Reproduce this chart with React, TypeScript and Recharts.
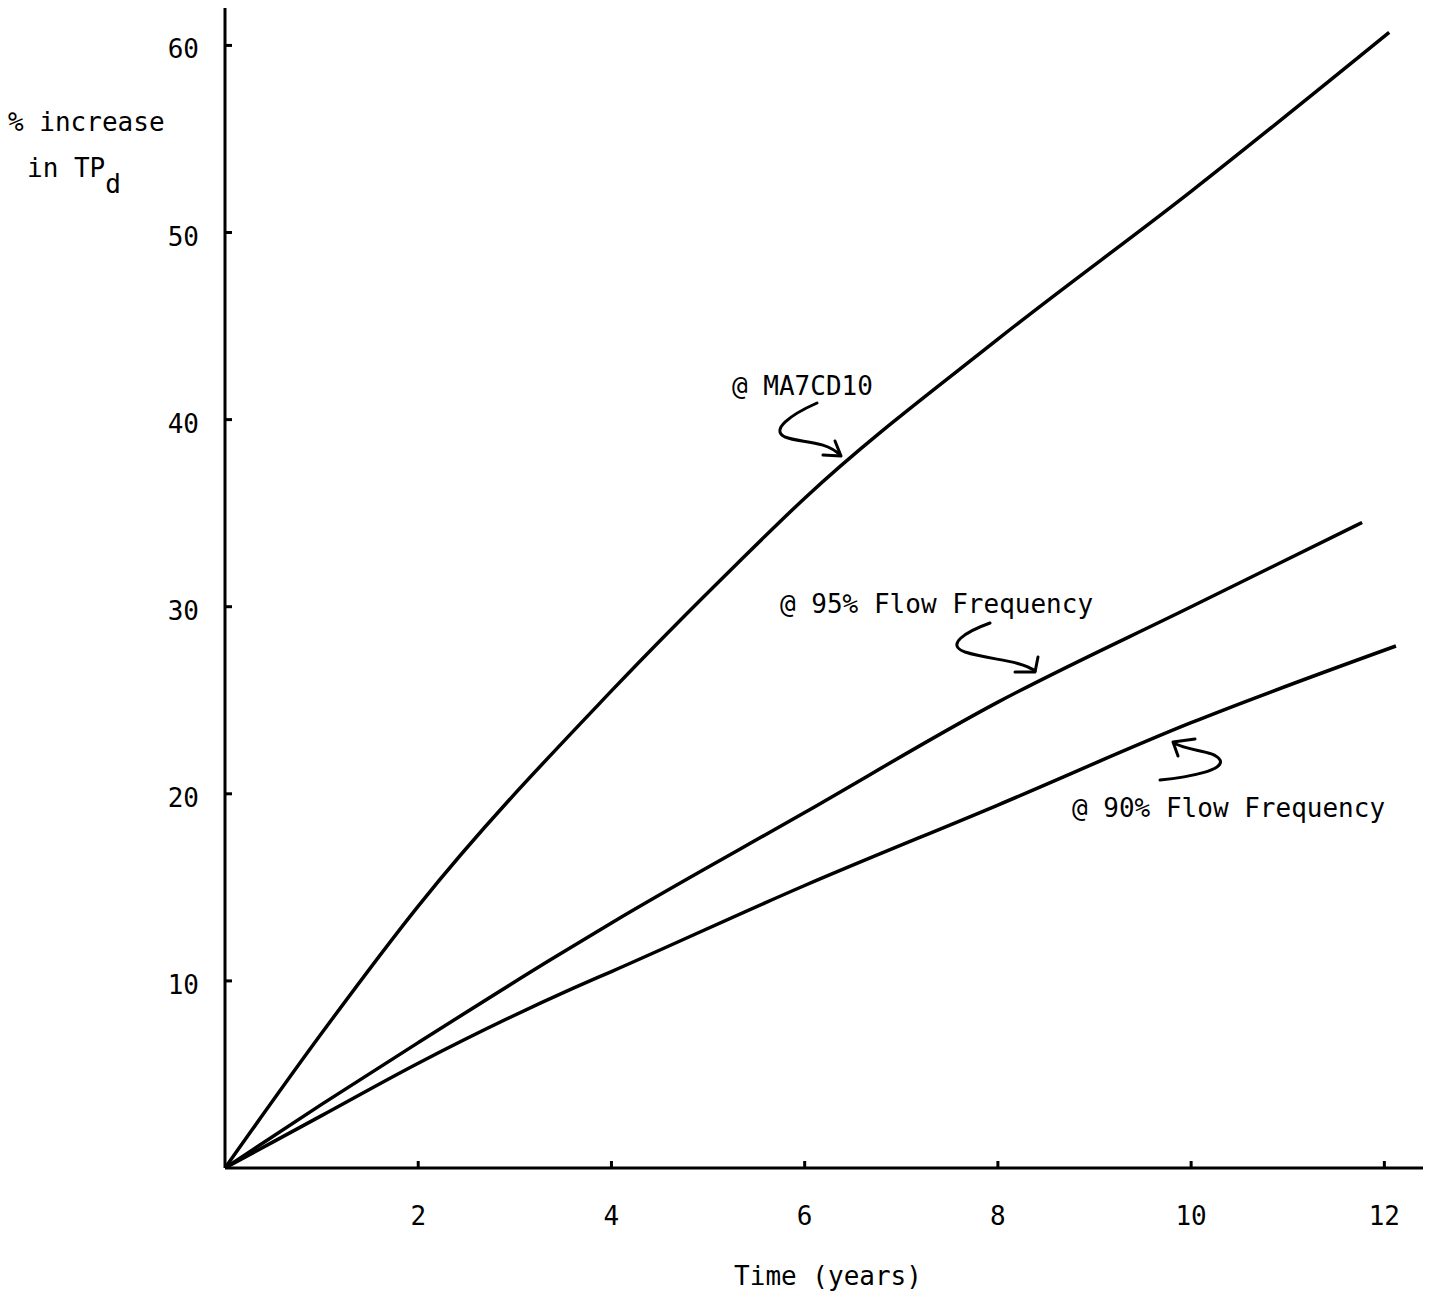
import React from "react";
import { LineChart, Line, XAxis, YAxis } from "recharts";

// values
const timeMA7CD10 = [0, 1, 2, 4, 5.3, 6, 8, 10, 12.05];
const pctMA7CD10 = [0, 7.2, 14.0, 25.5, 32.3, 35.8, 44.3, 52.2, 60.7];

const time95 = [0, 1, 2, 3.36, 4, 6, 8, 10, 11.77];
const pct95 = [0, 3.4, 6.7, 11.1, 13.1, 19.0, 24.9, 30.0, 34.5];

const time90 = [0, 1, 2, 3.6, 4, 6, 8, 10, 12.12];
const pct90 = [0, 2.8, 5.6, 9.6, 10.5, 15.1, 19.4, 23.8, 27.9];

const xTicks = [2, 4, 6, 8, 10, 12];
const yTicks = [10, 20, 30, 40, 50, 60];

const toPoints = (xs: number[], ys: number[]) => xs.map((t, i) => ({ time: t, pct: ys[i] }));

const FONT = "'DejaVu Sans Mono', monospace";
const INK = "#000";

function XTick(props: any) {
  const { x, y, payload } = props;
  return (
    <g>
      <line x1={x} y1={y} x2={x} y2={y - 7} stroke={INK} strokeWidth={3} />
      <text x={x} y={y + 57} textAnchor="middle" fontFamily={FONT} fontSize={26} fill={INK}>
        {payload.value}
      </text>
    </g>
  );
}

function YTick(props: any) {
  const { x, y, payload } = props;
  return (
    <g>
      <line x1={x} y1={y} x2={x + 7} y2={y} stroke={INK} strokeWidth={3} />
      <text x={x - 26} y={y + 13} textAnchor="end" fontFamily={FONT} fontSize={26} fill={INK}>
        {payload.value}
      </text>
    </g>
  );
}

export default function App() {
  const W = 1429;
  const H = 1297;
  return (
    <div style={{ position: "absolute", left: 0, top: 0, width: W, height: H, background: "#fff" }}>
      <LineChart width={W} height={H} margin={{ top: 8, right: 6, bottom: 69, left: 165 }}>
        <XAxis
          dataKey="time"
          type="number"
          domain={[0, 12.4]}
          ticks={xTicks}
          allowDataOverflow
          height={60}
          tickSize={0}
          tickMargin={0}
          tickLine={false}
          axisLine={{ stroke: INK, strokeWidth: 3 }}
          tick={<XTick />}
        />
        <YAxis
          type="number"
          domain={[0, 62]}
          ticks={yTicks}
          allowDataOverflow
          width={60}
          tickSize={0}
          tickMargin={0}
          tickLine={false}
          axisLine={{ stroke: INK, strokeWidth: 3 }}
          tick={<YTick />}
        />
        <Line data={toPoints(timeMA7CD10, pctMA7CD10)} dataKey="pct" type="monotone" stroke={INK} strokeWidth={3.5} dot={false} isAnimationActive={false} />
        <Line data={toPoints(time95, pct95)} dataKey="pct" type="monotone" stroke={INK} strokeWidth={3.5} dot={false} isAnimationActive={false} />
        <Line data={toPoints(time90, pct90)} dataKey="pct" type="monotone" stroke={INK} strokeWidth={3.5} dot={false} isAnimationActive={false} />
      </LineChart>

      <svg width={W} height={H} style={{ position: "absolute", left: 0, top: 0, pointerEvents: "none" }}>
        <g fontFamily={FONT} fontSize={26} fill={INK}>
          <text x={8} y={131}>% increase</text>
          <text x={27} y={177}>
            in TP<tspan dy={16}>d</tspan>
          </text>
          <text x={828} y={1285} textAnchor="middle">Time (years)</text>
          <text x={732} y={395}>@ MA7CD10</text>
          <text x={780} y={613}>@ 95% Flow Frequency</text>
          <text x={1072} y={817}>@ 90% Flow Frequency</text>
        </g>
        <g fill="none" stroke={INK} strokeWidth={3} strokeLinecap="round" strokeLinejoin="round">
          <path d="M 817 403 C 790 415, 770 430, 785 437 C 800 443, 825 440, 840 455" />
          <path d="M 835 441 L 841 456 L 823 455" />
          <path d="M 990 623 C 965 632, 945 645, 965 652 C 990 660, 1020 660, 1035 671" />
          <path d="M 1038 657 L 1035 672 L 1015 672" />
          <path d="M 1160 780 C 1190 777, 1225 770, 1220 760 C 1214 750, 1190 752, 1174 743" />
          <path d="M 1195 739 L 1173 742 L 1178 756" />
        </g>
      </svg>
    </div>
  );
}
